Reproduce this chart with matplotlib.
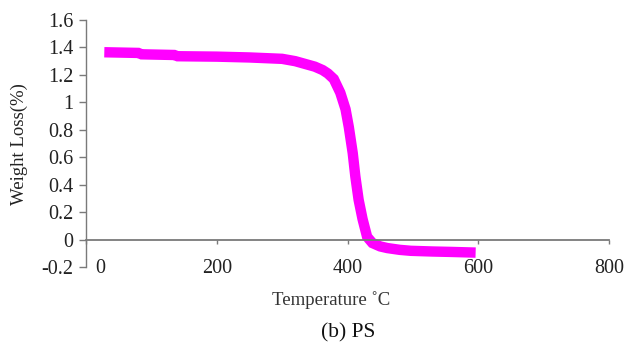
import matplotlib.pyplot as plt
import numpy as np

# TGA curve for PS
temperature = [28, 80, 85, 135, 140, 200, 250, 300, 320, 335, 350, 362, 370, 379, 389, 397,
               402, 408, 412, 417, 423, 430, 438, 450, 461, 480, 497, 530, 558, 596]
weight_loss = [1.365, 1.36, 1.35, 1.345, 1.336, 1.333, 1.327, 1.317, 1.30, 1.28, 1.26, 1.235,
               1.21, 1.17, 1.07, 0.95, 0.82, 0.63, 0.46, 0.29, 0.15, 0.02, -0.025, -0.05,
               -0.062, -0.075, -0.082, -0.087, -0.09, -0.095]

x_ticks = [0, 200, 400, 600, 800]
y_ticks = [-0.2, 0, 0.2, 0.4, 0.6, 0.8, 1, 1.2, 1.4, 1.6]
y_tick_labels = ['-0.2', '0', '0.2', '0.4', '0.6', '0.8', '1', '1.2', '1.4', '1.6']

plt.rcParams['font.family'] = ['Liberation Serif', 'DejaVu Serif']

fig = plt.figure(figsize=(6.25, 3.46), dpi=100)
ax = fig.add_axes([0.1376, 0.2283, 0.8368, 0.7139])

ax.plot(temperature, weight_loss, color='#ff00ff', linewidth=7.5, solid_capstyle='butt',
        solid_joinstyle='miter')

ax.set_xlim(0, 800)
ax.set_ylim(-0.2, 1.6)

axis_grey = '#7a7a7a'
ax.spines['top'].set_visible(False)
ax.spines['right'].set_visible(False)
ax.spines['bottom'].set_position(('data', 0))
ax.spines['bottom'].set_color(axis_grey)
ax.spines['left'].set_color(axis_grey)
ax.spines['bottom'].set_linewidth(1.3)
ax.spines['left'].set_linewidth(1.0)

ax.set_yticks(y_ticks)
ax.set_yticklabels(y_tick_labels)
ax.set_xticks(x_ticks)
# first x label is drawn separately (shifted right, like the original)
ax.set_xticklabels([''] + [str(t) for t in x_ticks[1:]])
ax.annotate('0', xy=(0, 0), xycoords=ax.get_xaxis_transform(), xytext=(10, -1),
            textcoords='offset points', ha='center', va='center', fontsize=14.5, color='#222222')

ax.tick_params(axis='y', direction='out', length=5, width=1, color=axis_grey,
               labelsize=14.5, labelcolor='#222222', pad=4)
ax.tick_params(axis='x', direction='out', length=3, width=1, color=axis_grey,
               labelsize=14.5, labelcolor='#222222', pad=11)

fig.text(0.0305, 0.585, 'Weight Loss(%)', rotation=90, ha='center', va='center',
         fontsize=13.5, color='#222222')
fig.text(0.53, 1 - 300 / 346, 'Temperature \u02daC', ha='center', va='center',
         fontsize=13.5, color='#333333')
fig.text(0.557, 1 - 333 / 346, '(b) PS', ha='center', va='center', fontsize=15.5,
         color='#111111')

fig.savefig('out.png', dpi=100)
